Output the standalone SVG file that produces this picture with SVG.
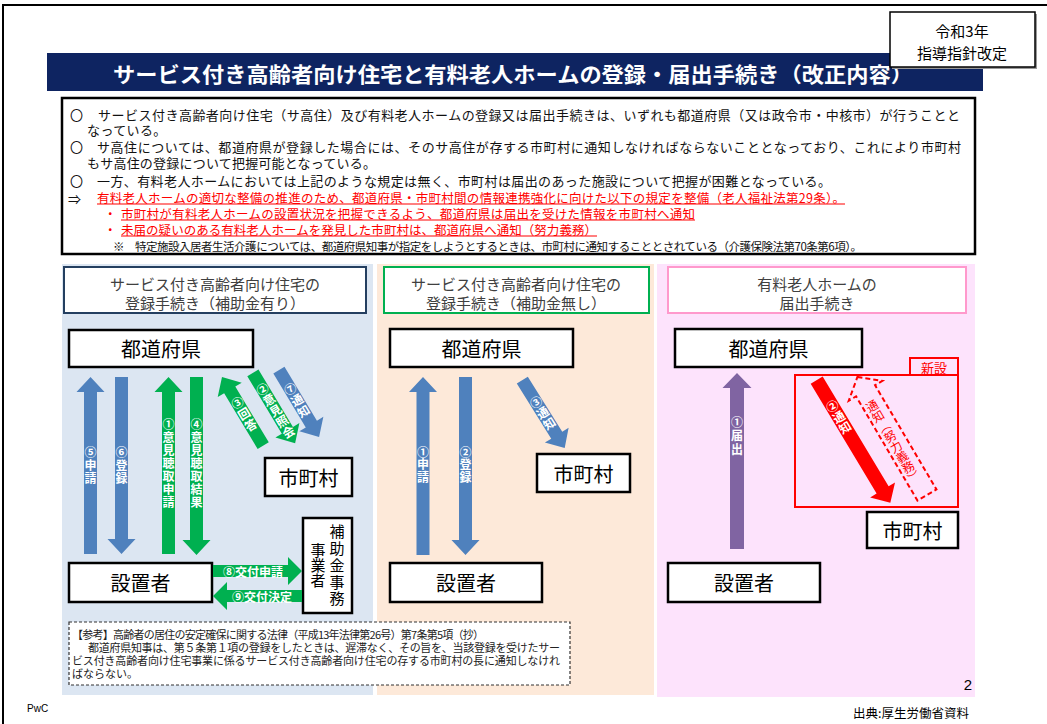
<svg xmlns="http://www.w3.org/2000/svg" width="1047" height="724" viewBox="0 0 1047 724">
<style>
.jp{font-family:"Noto Sans CJK JP","Noto Sans CJK SC",sans-serif}
.body{font-size:13px;fill:#111}
.red{font-size:12.5px;fill:#ff0000}
.hdr{font-size:15px;fill:#404040;text-anchor:middle;dominant-baseline:central}
.node{fill:#fff;stroke:#000;stroke-width:2.5}
.ntx{font-size:20px;fill:#000;text-anchor:middle;dominant-baseline:central}
.vl{writing-mode:vertical-rl;font-size:12px;font-weight:bold;fill:#fff}
.blue{fill:#4f81bd}
.green{fill:#00b050}
</style>
<rect x="0" y="0" width="1047" height="724" fill="#fff"/>
<rect x="3" y="5" width="1100" height="800" fill="none" stroke="#000" stroke-width="2"/>

<g id="title">
<rect x="47" y="53" width="936" height="38" fill="#0e2461"/>
<text class="jp" x="113" y="72.5" font-size="21" font-weight="bold" fill="#fff" dominant-baseline="central" textLength="800" lengthAdjust="spacingAndGlyphs">サービス付き高齢者向け住宅と有料老人ホームの登録・届出手続き（改正内容）</text>
</g>
<g id="badge">
<rect x="892" y="14" width="145" height="55" fill="#999"/>
<rect x="890" y="12" width="145" height="55" fill="#fff" stroke="#000" stroke-width="1.5"/>
<text class="jp" x="962" y="30.5" font-size="15" text-anchor="middle" dominant-baseline="central">令和3年</text>
<text class="jp" x="962" y="52" font-size="15" text-anchor="middle" dominant-baseline="central">指導指針改定</text>
</g>

<g id="summary">
<rect x="62" y="98" width="913" height="156" fill="#fff" stroke="#000" stroke-width="2.5"/>
<g class="jp body" dominant-baseline="central">
<text x="70" y="114">〇</text>
<text x="98" y="114" textLength="862" lengthAdjust="spacing">サービス付き高齢者向け住宅（サ高住）及び有料老人ホームの登録又は届出手続きは、いずれも都道府県（又は政令市・中核市）が行うことと</text>
<text x="87" y="129" letter-spacing="0.4">なっている。</text>
<text x="70" y="146">〇</text>
<text x="97" y="146" textLength="864" lengthAdjust="spacing">サ高住については、都道府県が登録した場合には、そのサ高住が存する市町村に通知しなければならないこととなっており、これにより市町村</text>
<text x="87" y="162" textLength="289" lengthAdjust="spacing">もサ高住の登録について把握可能となっている。</text>
<text x="70" y="180">〇</text>
<text x="97" y="180" textLength="734" lengthAdjust="spacing">一方、有料老人ホームにおいては上記のような規定は無く、市町村は届出のあった施設について把握が困難となっている。</text>
<text x="68" y="198">⇒</text>
</g>
<g class="jp red" dominant-baseline="central">
<text x="97" y="197" textLength="748" lengthAdjust="spacing">有料老人ホームの適切な整備の推進のため、都道府県・市町村間の情報連携強化に向けた以下の規定を整備（老人福祉法第29条）。</text>
<text x="104" y="213">・</text>
<text x="121" y="213" textLength="574" lengthAdjust="spacing">市町村が有料老人ホームの設置状況を把握できるよう、都道府県は届出を受けた情報を市町村へ通知</text>
<text x="104" y="229">・</text>
<text x="121" y="229" textLength="476" lengthAdjust="spacing">未届の疑いのある有料老人ホームを発見した市町村は、都道府県へ通知（努力義務）</text>
</g>
<g stroke="#ff0000" stroke-width="1.2">
<line x1="97" y1="204" x2="845" y2="204"/>
<line x1="121" y1="220" x2="695" y2="220"/>
<line x1="121" y1="236" x2="597" y2="236"/>
</g>
<text class="jp" x="113" y="246" font-size="11.5" fill="#111" dominant-baseline="central">※</text>
<text class="jp" x="135" y="246" font-size="11.5" fill="#111" dominant-baseline="central" textLength="727" lengthAdjust="spacing">特定施設入居者生活介護については、都道府県知事が指定をしようとするときは、市町村に通知することとされている（介護保険法第70条第6項）。</text>
</g>

<g id="panels">
<rect x="62" y="264" width="311" height="431" fill="#dce6f2"/>
<rect x="377" y="264" width="277" height="431" fill="#fde9d9"/>
<rect x="657" y="264" width="318" height="433" fill="#fde3fc"/>
</g>

<g id="header1">
<rect x="64" y="267" width="302" height="46" fill="#fff" stroke="#243f60" stroke-width="2"/>
<text class="jp hdr" x="215" y="283">サービス付き高齢者向け住宅の</text>
<text class="jp hdr" x="215" y="302">登録手続き（補助金有り）</text>
</g>
<g id="header2">
<rect x="384" y="267" width="265" height="46" fill="#fff" stroke="#00b050" stroke-width="2"/>
<text class="jp hdr" x="516" y="283">サービス付き高齢者向け住宅の</text>
<text class="jp hdr" x="516" y="302">登録手続き（補助金無し）</text>
</g>
<g id="header3">
<rect x="668" y="267" width="298" height="46" fill="#fff" stroke="#ff99cc" stroke-width="2"/>
<text class="jp hdr" x="817" y="283">有料老人ホームの</text>
<text class="jp hdr" x="817" y="302">届出手続き</text>
</g>

<g id="pref1"><rect class="node" x="69" y="330" width="184" height="37"/><text class="jp ntx" x="161" y="348.5">都道府県</text></g>
<g id="city1"><rect class="node" x="265" y="458" width="87" height="38"/><text class="jp ntx" x="308.5" y="477">市町村</text></g>
<g id="owner1"><rect class="node" x="69" y="563" width="143" height="39"/><text class="jp ntx" x="140.5" y="582.5">設置者</text></g>
<g id="subsidy">
<rect class="node" x="303" y="518" width="49" height="95"/>
<text class="jp" x="337" y="524" font-size="15" fill="#000" style="writing-mode:vertical-rl" letter-spacing="1.8">補助金事務</text>
<text class="jp" x="318" y="543" font-size="15" fill="#000" style="writing-mode:vertical-rl">事業者</text>
</g>

<g id="pref2"><rect class="node" x="390" y="329" width="183" height="38"/><text class="jp ntx" x="481.5" y="348">都道府県</text></g>
<g id="city2"><rect class="node" x="537" y="454" width="93" height="38"/><text class="jp ntx" x="583.5" y="473">市町村</text></g>
<g id="owner2"><rect class="node" x="390" y="563" width="152" height="39"/><text class="jp ntx" x="466" y="582.5">設置者</text></g>

<g id="pref3"><rect class="node" x="675" y="329" width="187" height="38"/><text class="jp ntx" x="768.5" y="348">都道府県</text></g>
<g id="city3"><rect class="node" x="867" y="512" width="91" height="36"/><text class="jp ntx" x="912.5" y="530">市町村</text></g>
<g id="owner3"><rect class="node" x="668" y="563" width="152" height="39"/><text class="jp ntx" x="744" y="582.5">設置者</text></g>
<g id="new-area">
<rect x="795" y="375" width="163" height="132" fill="none" stroke="#ff0000" stroke-width="2"/>
<rect x="910" y="358" width="48" height="17" fill="none" stroke="#ff0000" stroke-width="2"/>
<text class="jp" x="934" y="367" font-size="13" fill="#ff0000" text-anchor="middle" dominant-baseline="central">新設</text>
</g>

<g id="connectors">
<path class="blue" d="M90.5,377 L104.5,392 L97,392 L97,554 L84,554 L84,392 L76.5,392 Z"/>
<path class="blue" d="M115,377 L128,377 L128,539 L135.5,539 L121.5,554 L107.5,539 L115,539 Z"/>
<path class="green" d="M168.5,377 L182.5,392 L175,392 L175,554 L162,554 L162,392 L154.5,392 Z"/>
<path class="green" d="M190,377 L203,377 L203,540 L210.5,540 L196.5,555 L182.5,540 L190,540 Z"/>
<text class="jp vl" x="90.5" y="446" letter-spacing="1">⑤申請</text>
<text class="jp vl" x="121.5" y="446" letter-spacing="1">⑥登録</text>
<text class="jp vl" x="168.5" y="418" letter-spacing="1">①意見聴取申請</text>
<text class="jp vl" x="196.5" y="418" letter-spacing="1">④意見聴取結果</text>
<g transform="translate(242.6,411.3) rotate(-31)">
<path class="green" d="M0,-40 L14,-25 L6.5,-25 L6.5,40 L-6.5,40 L-6.5,-25 L-14,-25 Z"/>
<text class="jp vl" x="0" y="-16" font-size="11.5" letter-spacing="1">③回答</text>
</g>
<g transform="translate(274,408) rotate(-31)">
<path class="green" d="M-6.5,-41 L6.5,-41 L6.5,26 L14,26 L0,41 L-14,26 L-6.5,26 Z"/>
<text class="jp vl" x="0" y="-28" font-size="11.5" letter-spacing="0.5">②意見照会</text>
</g>
<g transform="translate(299,403.5) rotate(-31)">
<path class="blue" d="M-6.5,-39 L6.5,-39 L6.5,24 L14,24 L0,39 L-14,24 L-6.5,24 Z"/>
<text class="jp vl" x="0" y="-23" font-size="11.5" letter-spacing="1">⑦通知</text>
</g>
<path class="green" d="M213,565 L288,565 L288,557 L302,571 L288,585 L288,577 L213,577 Z"/>
<path class="green" d="M302,590 L227,590 L227,582 L213,596 L227,610 L227,602 L302,602 Z"/>
<text class="jp" x="253" y="571" font-size="12" font-weight="bold" fill="#fff" text-anchor="middle" dominant-baseline="central">⑧交付申請</text>
<text class="jp" x="262" y="596" font-size="12" font-weight="bold" fill="#fff" text-anchor="middle" dominant-baseline="central">⑨交付決定</text>
<path class="blue" d="M423,377 L437,392 L429.5,392 L429.5,555 L416.5,555 L416.5,392 L409,392 Z"/>
<path class="blue" d="M459,377 L472,377 L472,540 L479.5,540 L465.5,555 L451.5,540 L459,540 Z"/>
<text class="jp vl" x="423" y="446" letter-spacing="0.5">①申請</text>
<text class="jp vl" x="465.5" y="446" letter-spacing="0.5">②登録</text>
<g transform="translate(543.5,414) rotate(-32)">
<path class="blue" d="M-6.5,-40 L6.5,-40 L6.5,25 L14,25 L0,40 L-14,25 L-6.5,25 Z"/>
<text class="jp vl" x="0" y="-20" font-size="11.5" letter-spacing="0.5">③通知</text>
</g>
<path fill="#8064a2" d="M737,373 L751.5,388 L744,388 L744,549 L730,549 L730,388 L722.5,388 Z"/>
<text class="jp vl" x="737" y="416" letter-spacing="1.5">①届出</text>
<g transform="translate(853.5,441.5) rotate(-31)">
<path fill="#ff0000" d="M-7,-71.5 L7,-71.5 L7,56.5 L14.5,56.5 L0,71.5 L-14.5,56.5 L-7,56.5 Z"/>
<text class="jp vl" x="0" y="-47" font-size="11.5" letter-spacing="0.3">②通知</text>
</g>
<g transform="translate(892.2,436) rotate(-30.5)">
<path fill="none" stroke="#ff0000" stroke-width="2" stroke-dasharray="5,3" d="M0,-68.5 L19.5,-52.5 L11,-52.5 L11,68.5 L-11,68.5 L-11,-52.5 L-19.5,-52.5 Z"/>
<text class="jp" x="-2" y="-42" font-size="12" fill="#ff0000" style="writing-mode:vertical-rl" letter-spacing="-0.2">通知（努力義務）</text>
</g>
</g>

<g id="reference">
<rect x="69" y="622" width="501" height="63" fill="#fff" stroke="#333" stroke-width="1.2" stroke-dasharray="3,2"/>
<g class="jp" font-size="11" fill="#222" dominant-baseline="central">
<text x="72" y="634" textLength="412" lengthAdjust="spacing">【参考】高齢者の居住の安定確保に関する法律（平成13年法律第26号）第7条第5項（抄）</text>
<text x="88" y="647" textLength="472" lengthAdjust="spacing">都道府県知事は、第５条第１項の登録をしたときは、遅滞なく、その旨を、当該登録を受けたサー</text>
<text x="72" y="659.5" textLength="488" lengthAdjust="spacing">ビス付き高齢者向け住宅事業に係るサービス付き高齢者向け住宅の存する市町村の長に通知しなけれ</text>
<text x="72" y="672.5">ばならない。</text>
</g>
</g>

<g id="footer">
<text x="968" y="684" font-family="Liberation Sans, Arial, sans-serif" font-size="15" fill="#000" text-anchor="middle" dominant-baseline="central">2</text>
<text class="jp" x="853" y="712" font-size="12.5" fill="#000" dominant-baseline="central">出典:厚生労働省資料</text>
<text x="27" y="708" font-family="Liberation Sans, Arial, sans-serif" font-size="10" fill="#000" dominant-baseline="central">PwC</text>
</g>
</svg>
